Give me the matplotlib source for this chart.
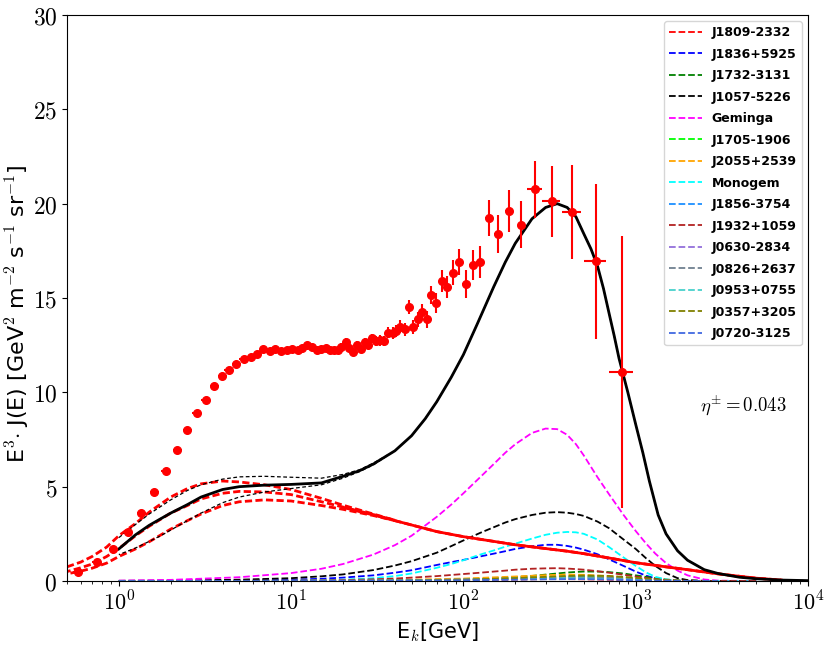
import numpy as np
import matplotlib
matplotlib.use("Agg")
import matplotlib.pyplot as plt
from matplotlib.ticker import FixedLocator, FuncFormatter, LogLocator, NullFormatter

plt.rcParams['mathtext.fontset'] = 'cm'
plt.rcParams['font.family'] = ['DejaVu Sans']

# measured positron data points (energy GeV, E^3 J, errors)
E_data = [0.58, 0.745, 0.927, 1.13, 1.35, 1.61, 1.88, 2.18, 2.50, 2.84, 3.21, 3.59, 3.99,
          4.36, 4.81, 5.31, 5.82, 6.36, 6.87, 7.5, 8.1, 8.7, 9.4, 10.1, 10.9, 11.6, 12.4,
          13.3, 14.2, 15.0, 15.9, 16.8, 17.7, 18.7, 19.6, 20.7, 21.8, 22.9, 24.0, 25.3,
          26.7, 28.0, 29.5, 31.2, 32.9, 34.7, 36.4, 38.9, 40.7, 43.1, 45.7, 48.2, 51.1,
          54.3, 57.6, 61.6, 65.2, 69.7, 74.8, 80.4, 86.6, 94.4, 103, 113, 125, 140, 159,
          183, 217, 261, 326, 427, 588, 832]
J_data = [0.46, 0.99, 1.68, 2.61, 3.59, 4.70, 5.81, 6.94, 8.02, 8.90, 9.59, 10.33, 10.86,
          11.17, 11.48, 11.78, 11.85, 12.03, 12.28, 12.19, 12.28, 12.17, 12.24, 12.28, 12.24,
          12.33, 12.52, 12.42, 12.24, 12.28, 12.33, 12.24, 12.24, 12.24, 12.42, 12.67, 12.33,
          12.15, 12.49, 12.28, 12.67, 12.52, 12.86, 12.74, 12.75, 12.72, 13.16, 13.16, 13.26,
          13.48, 13.35, 14.54, 13.48, 13.88, 14.24, 13.87, 15.16, 14.72, 15.90, 15.58, 16.34,
          16.90, 15.76, 16.76, 16.92, 19.22, 18.41, 19.62, 18.88, 20.76, 20.12, 19.57, 16.94,
          11.09]
J_err = [0.06, 0.06, 0.06, 0.06, 0.07, 0.07, 0.08, 0.08, 0.09, 0.1, 0.1, 0.1, 0.1,
         0.1, 0.1, 0.1, 0.1, 0.12, 0.12, 0.12, 0.12, 0.12, 0.12, 0.13, 0.13, 0.13, 0.14,
         0.14, 0.15, 0.15, 0.16, 0.16, 0.17, 0.17, 0.18, 0.19, 0.2, 0.2, 0.21, 0.22,
         0.23, 0.24, 0.25, 0.26, 0.27, 0.28, 0.3, 0.31, 0.32, 0.34, 0.35, 0.37, 0.38,
         0.4, 0.42, 0.45, 0.5, 0.53, 0.56, 0.6, 0.65, 0.7, 0.75, 0.8, 0.85, 0.95, 1.0,
         1.1, 1.25, 1.5, 1.9, 2.5, 4.1, 7.2]
E_frac = [0.06] * 17 + [0.03] * 45 + [0.05] * 7 + [0.1, 0.12, 0.13, 0.15, 0.16]

# secondary positrons: three modulation choices at low energy
E_sec = [0.5, 0.6, 0.7, 0.85, 1, 1.25, 1.5, 2, 2.5, 3, 4, 5, 7, 10, 15, 20, 30, 40]
sec_hi = [0.75, 1.0, 1.3, 1.8, 2.4, 3.05, 3.65, 4.45, 4.9, 5.15, 5.3, 5.25, 5.1, 4.85,
          4.38, 4.02, 3.55, 3.22]
sec_mid = [0.5, 0.7, 0.9, 1.3, 1.72, 2.4, 2.9, 3.6, 4.0, 4.35, 4.65, 4.75, 4.72, 4.58,
           4.2, 3.92, 3.52, 3.22]
sec_lo = [0.38, 0.52, 0.68, 0.95, 1.3, 1.7, 2.08, 2.75, 3.2, 3.55, 4.0, 4.2, 4.3, 4.24,
          4.0, 3.8, 3.47, 3.2]
# common high energy part
E_sec_tail = [20, 30, 40, 50, 70, 100, 150, 200, 300, 400, 500, 700, 1000, 1500, 2000,
              3000, 5000, 7000]
sec_tail = [3.9, 3.5, 3.2, 2.97, 2.62, 2.35, 2.1, 1.92, 1.72, 1.58, 1.45, 1.22, 0.97,
            0.75, 0.6, 0.38, 0.15, 0.05]

# total model (central and two modulation variants)
E_tot = [1, 1.25, 1.5, 1.75, 2, 2.5, 3, 4, 5, 7, 10, 15, 20, 25, 30, 40, 50, 60, 70, 85,
         100, 120, 150, 175, 200, 250, 300, 350, 400, 450, 500, 550, 600, 650, 700, 750,
         800, 900, 1000, 1100, 1200, 1350, 1500, 1750, 2000, 2500, 3000, 4000, 5000, 7000,
         10000]
tot_tail = [6.9, 7.7, 8.6, 9.5, 10.8, 12.0, 13.6, 15.6, 16.9, 17.9, 19.2, 19.8, 20.0, 19.8,
            19.3, 18.4, 17.6, 16.7, 15.5, 14.2, 13.0, 11.8, 10.0, 8.3, 6.8, 5.3, 3.5, 2.5,
            1.6, 1.1, 0.6, 0.4, 0.2, 0.12, 0.05, 0.02]
tot_mid = [1.7, 2.45, 2.95, 3.3, 3.6, 4.05, 4.45, 4.85, 5.0, 5.08, 5.12, 5.2, 5.55, 5.85,
           6.2] + tot_tail
tot_hi = [2.3, 3.0, 3.55, 3.95, 4.3, 4.8, 5.1, 5.4, 5.52, 5.55, 5.5, 5.45, 5.65, 5.9,
          6.25] + tot_tail
tot_lo = [1.4, 1.75, 2.1, 2.4, 2.7, 3.2, 3.6, 4.15, 4.45, 4.72, 4.9, 5.1, 5.45, 5.8,
          6.15] + tot_tail

# single pulsar contributions (bright ones)
E_psr = [1, 2, 5, 10, 15, 20, 30, 40, 50, 70, 85, 100, 125, 150, 175, 200, 250, 300, 350,
         400, 450, 500, 600, 700, 850, 1000, 1150, 1300, 1500, 1750, 2000, 2500, 3000, 5000]
psr_J1836 = [0.005, 0.01, 0.03, 0.07, 0.12, 0.18, 0.3, 0.44, 0.57, 0.85, 1.0, 1.12, 1.3,
             1.45, 1.58, 1.7, 1.84, 1.92, 1.92, 1.86, 1.77, 1.66, 1.42, 1.15, 0.8, 0.5,
             0.28, 0.14, 0.05, 0.01, 0, 0, 0, 0]
psr_J1732 = [0, 0, 0, 0, 0.005, 0.007, 0.01, 0.015, 0.02, 0.04, 0.055, 0.07, 0.1, 0.13,
             0.17, 0.2, 0.27, 0.34, 0.4, 0.45, 0.48, 0.5, 0.5, 0.47, 0.4, 0.3, 0.22, 0.15,
             0.08, 0.03, 0.01, 0, 0, 0]
psr_J1057 = [0.01, 0.02, 0.07, 0.15, 0.25, 0.35, 0.58, 0.82, 1.05, 1.5, 1.85, 2.15, 2.55,
             2.85, 3.1, 3.28, 3.5, 3.62, 3.65, 3.62, 3.55, 3.45, 3.15, 2.8, 2.2, 1.7, 1.2,
             0.8, 0.42, 0.15, 0.05, 0.01, 0, 0]
psr_Geminga = [0.02, 0.06, 0.2, 0.42, 0.65, 0.9, 1.4, 1.9, 2.4, 3.4, 4.05, 4.65, 5.5, 6.2,
               6.8, 7.25, 7.85, 8.08, 8.05, 7.75, 7.25, 6.65, 5.5, 4.6, 3.5, 2.65, 1.98,
               1.45, 0.95, 0.55, 0.3, 0.08, 0.02, 0]
psr_Monogem = [0, 0, 0.005, 0.02, 0.04, 0.07, 0.15, 0.26, 0.4, 0.7, 0.9, 1.1, 1.4, 1.62,
               1.82, 1.98, 2.25, 2.45, 2.56, 2.6, 2.58, 2.5, 2.2, 1.8, 1.25, 0.8, 0.45,
               0.22, 0.08, 0.02, 0, 0, 0, 0]
psr_J1932 = [0, 0, 0.01, 0.02, 0.035, 0.05, 0.09, 0.13, 0.18, 0.26, 0.32, 0.37, 0.44, 0.5,
             0.55, 0.6, 0.65, 0.67, 0.68, 0.66, 0.63, 0.6, 0.52, 0.44, 0.33, 0.24, 0.16,
             0.1, 0.05, 0.02, 0.01, 0, 0, 0]

# faint pulsars, coarser reading
E_small = [1, 10, 30, 100, 200, 300, 400, 500, 700, 1000, 1500, 2000, 3000]
psr_J1809 = [0, 0.005, 0.02, 0.05, 0.08, 0.1, 0.1, 0.09, 0.07, 0.04, 0.01, 0, 0]
psr_J1705 = [0, 0.005, 0.02, 0.08, 0.15, 0.2, 0.23, 0.24, 0.21, 0.13, 0.03, 0, 0]
psr_J2055 = [0, 0.005, 0.03, 0.13, 0.24, 0.31, 0.34, 0.33, 0.26, 0.14, 0.03, 0, 0]
psr_J1856 = [0, 0, 0.01, 0.06, 0.12, 0.17, 0.19, 0.19, 0.16, 0.09, 0.02, 0, 0]
psr_J0630 = [0, 0, 0.01, 0.05, 0.09, 0.11, 0.12, 0.12, 0.1, 0.06, 0.01, 0, 0]
psr_J0826 = [0, 0.005, 0.02, 0.08, 0.14, 0.18, 0.2, 0.2, 0.17, 0.1, 0.02, 0, 0]
psr_J0953 = [0, 0.005, 0.02, 0.07, 0.12, 0.14, 0.15, 0.14, 0.11, 0.06, 0.01, 0, 0]
psr_J0357 = [0, 0, 0.01, 0.07, 0.15, 0.22, 0.27, 0.29, 0.27, 0.17, 0.04, 0.005, 0]
psr_J0720 = [0, 0, 0.01, 0.04, 0.07, 0.09, 0.1, 0.1, 0.08, 0.04, 0.01, 0, 0]

pulsar_names = ['J1809-2332', 'J1836+5925', 'J1732-3131', 'J1057-5226', 'Geminga',
                'J1705-1906', 'J2055+2539', 'Monogem', 'J1856-3754', 'J1932+1059',
                'J0630-2834', 'J0826+2637', 'J0953+0755', 'J0357+3205', 'J0720-3125']
pulsar_colors = ['red', 'blue', 'green', 'black', 'magenta', 'lime', 'orange', 'cyan',
                 'dodgerblue', 'firebrick', 'mediumpurple', 'slategray', 'mediumturquoise',
                 'olive', 'royalblue']
pulsar_values = [psr_J1809, psr_J1836, psr_J1732, psr_J1057, psr_Geminga, psr_J1705,
                 psr_J2055, psr_Monogem, psr_J1856, psr_J1932, psr_J0630, psr_J0826,
                 psr_J0953, psr_J0357, psr_J0720]

fig = plt.figure(figsize=(8.3, 6.47), dpi=100)
ax = fig.add_axes([0.0807, 0.102, 0.8928, 0.8748])

for name, col, vals in zip(pulsar_names, pulsar_colors, pulsar_values):
    E = E_small if len(vals) == len(E_small) else E_psr
    ax.plot(E, vals, '--', color=col, lw=1.3, label=name)

# secondary: dashed curves whose dashes interleave where they overlap
for vals, off in zip([sec_hi, sec_mid, sec_lo], [0, 1.27, 2.53]):
    ax.plot(E_sec, vals, color='red', lw=2, linestyle=(off, (2.6, 1.2)))
ax.plot(E_sec_tail, sec_tail, color='red', lw=2, linestyle=(0, (2.6, 1.2)))
ax.plot(E_sec_tail[2:], sec_tail[2:], color='red', lw=2)

ax.plot(E_tot, tot_hi, color='black', lw=0.9, linestyle=(0, (3, 2)))
ax.plot(E_tot, tot_lo, color='black', lw=0.9, linestyle=(2, (3, 2)))
ax.plot(E_tot, tot_mid, color='black', lw=2)

E_xerr = [e * f for e, f in zip(E_data, E_frac)]
ax.errorbar(E_data, J_data, xerr=E_xerr, yerr=J_err, fmt='o', color='red', ms=5.5,
            elinewidth=1.5, capsize=0, zorder=5)

ax.text(4200, 9.3, r'$\eta^{\pm}=0.043$', fontsize=13.5, ha='center', va='center')

ax.set_xscale('log')
ax.set_xlim(0.5, 1e4)
ax.set_ylim(0, 30)
ax.xaxis.set_major_locator(FixedLocator([1, 10, 100, 1000, 10000]))
ax.xaxis.set_major_formatter(FuncFormatter(lambda v, p: r'$10^{%d}$' % round(np.log10(v))))
ax.xaxis.set_minor_locator(LogLocator(base=10, subs=np.arange(2, 10)))
ax.xaxis.set_minor_formatter(NullFormatter())
ax.yaxis.set_major_locator(FixedLocator([0, 5, 10, 15, 20, 25, 30]))
ax.yaxis.set_major_formatter(FuncFormatter(lambda v, p: r'$%d$' % v))
ax.tick_params(axis='y', labelsize=17)
ax.tick_params(axis='x', labelsize=16)

ax.set_xlabel(r'E$_k$[GeV]', fontsize=15)
ax.set_ylabel(r'E$^3$$\cdot$ J(E) [GeV$^2$ m$^{-2}$ s$^{-1}$ sr$^{-1}$]', fontsize=16)
ax.yaxis.set_label_coords(-0.047, 0.472)

ax.legend(loc='upper right', prop={'weight': 'bold', 'size': 9}, labelspacing=0.68,
          handlelength=2.6, borderaxespad=0.5)

fig.savefig('out.png', dpi=100)
